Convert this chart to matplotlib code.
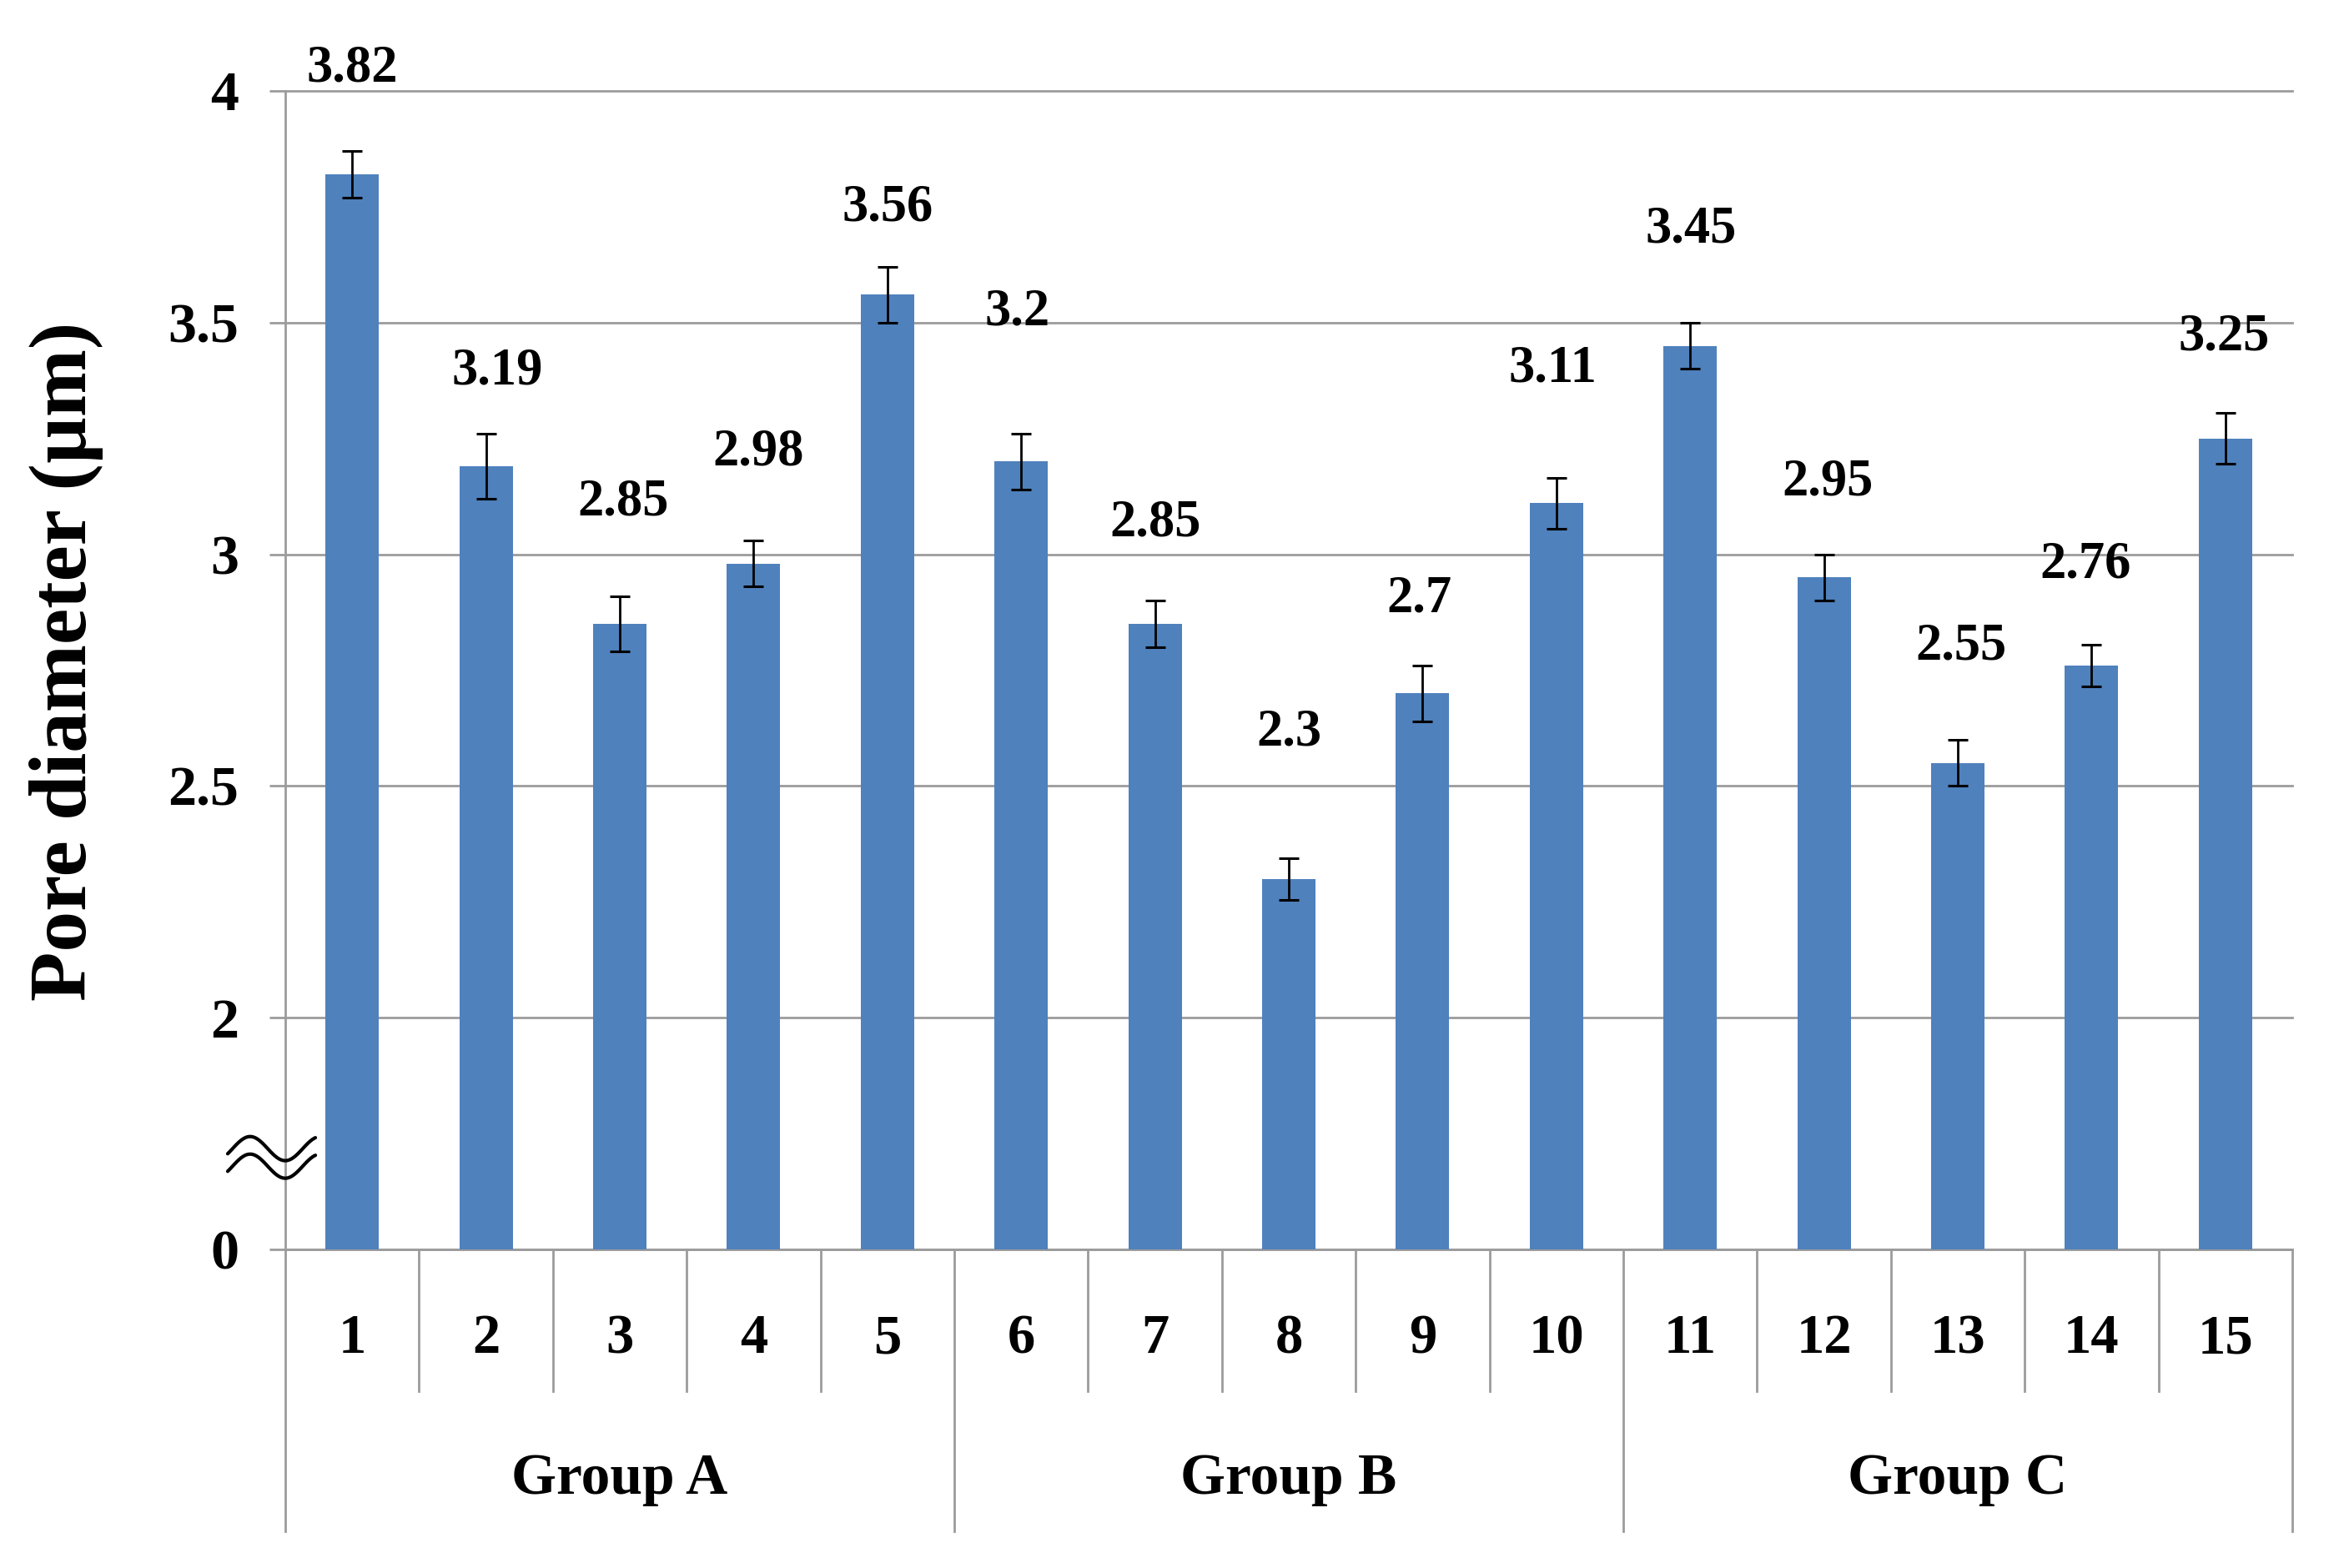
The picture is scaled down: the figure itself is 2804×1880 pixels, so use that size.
import numpy as np
import matplotlib
matplotlib.use("Agg")
import matplotlib.pyplot as plt
import matplotlib.transforms as mtransforms

# ---------------- data ----------------
categories = [str(i) for i in range(1, 16)]
groups = ["Group A", "Group B", "Group C"]
group_size = 5
values = [3.82, 3.19, 2.85, 2.98, 3.56, 3.2, 2.85, 2.3, 2.7, 3.11,
          3.45, 2.95, 2.55, 2.76, 3.25]
errors = [0.05, 0.07, 0.06, 0.05, 0.06, 0.06, 0.05, 0.045, 0.06, 0.055,
          0.05, 0.05, 0.05, 0.045, 0.055]
ytick_values = [1.5, 2, 2.5, 3, 3.5, 4]
ytick_labels = ["0", "2", "2.5", "3", "3.5", "4"]
ylabel = "Pore diameter (µm)"

# label placement (points, relative to bar top) - layout only
label_dy = [91, 82, 105, 96, 75, 129, 87, 126, 81, 116, 100, 82, 100, 87, 87]
label_dx = [0, 10, 3, 4, 0, -3, 0, 0, -3, -3, 1, 3, 3, -5, -1]

# ---------------- style ----------------
FONT = ["Liberation Serif", "DejaVu Serif"]
plt.rcParams["font.family"] = FONT
plt.rcParams["font.weight"] = "bold"
BAR = "#4f81bd"
GRID = "#9c9c9c"

fig = plt.figure(figsize=(28.04, 18.80), dpi=100)
W, H = 2804, 1880
left, right, top, bottom = 342, 2748, 109, 1498
ax = fig.add_axes([left / W, 1 - bottom / H, (right - left) / W, (bottom - top) / H])

x = np.arange(len(values))
ax.bar(x, values, width=0.4, color=BAR, zorder=3)
ax.errorbar(x, values, yerr=errors, fmt="none", ecolor="black",
            elinewidth=2.0, capsize=8.3, capthick=2.2, zorder=4)

ax.set_xlim(-0.5, len(values) - 0.5)
ax.set_ylim(1.5, 4.0)

# y axis
ax.set_yticks(ytick_values)
ax.set_yticklabels(ytick_labels, fontsize=49, fontweight="bold")
ax.tick_params(axis="y", direction="out", length=14, width=2, color=GRID, pad=26)
ax.yaxis.grid(True, color=GRID, linewidth=2.0, zorder=0)
for gl in ax.get_ygridlines():
    gl.set_clip_on(False)
ax.set_axisbelow(True)

for s in ["top", "right"]:
    ax.spines[s].set_visible(False)
for s in ["left", "bottom"]:
    ax.spines[s].set_color(GRID)
    ax.spines[s].set_linewidth(2.0)

# x axis: categories and group rows
ax.set_xticks([])
trans = ax.get_xaxis_transform()
axh = bottom - top
y_cat = -(1606 - bottom) / axh
y_grp = -(1774 - bottom) / axh
y_sep = -(1668 - bottom) / axh
y_gsep = -(1836 - bottom) / axh

for xi, lab in zip(x, categories):
    ax.text(xi, y_cat, lab, transform=trans, ha="center", va="center",
            fontsize=48, fontweight="bold")
for gi, g in enumerate(groups):
    cx = gi * group_size + (group_size - 1) / 2
    ax.text(cx, y_grp, g, transform=trans, ha="center", va="center",
            fontsize=50, fontweight="bold")

for k in range(len(values) + 1):
    xb = k - 0.5
    is_group = (k % group_size == 0)
    ax.plot([xb, xb], [0, y_gsep if is_group else y_sep], transform=trans,
            color=GRID, linewidth=2.0, clip_on=False, zorder=2)

# data labels
for xi, v, dx, dy in zip(x, values, label_dx, label_dy):
    ax.annotate(f"{v:g}", xy=(xi, v), xytext=(dx, dy), textcoords="offset points",
                ha="center", va="center", fontsize=45, fontweight="bold")

# y label
fig.text(80 / W, 1 - 793 / H, ylabel, rotation=90, ha="center", va="center",
         fontsize=70, fontweight="bold")

# axis break symbol (two tildes)
btrans = mtransforms.blended_transform_factory(ax.transAxes, ax.transData)
t = np.linspace(-0.07, 1.18, 100)
xs = -0.0287 + (t - t[0]) / (t[-1] - t[0]) * (0.0150 + 0.0287)
for yc in (1.7175, 1.6796):
    ax.plot(xs, yc + 0.026 * np.sin(2 * np.pi * t), transform=btrans,
            color="black", linewidth=3.0, clip_on=False, zorder=5,
            solid_capstyle="round")

fig.savefig("out.png", dpi=100)
